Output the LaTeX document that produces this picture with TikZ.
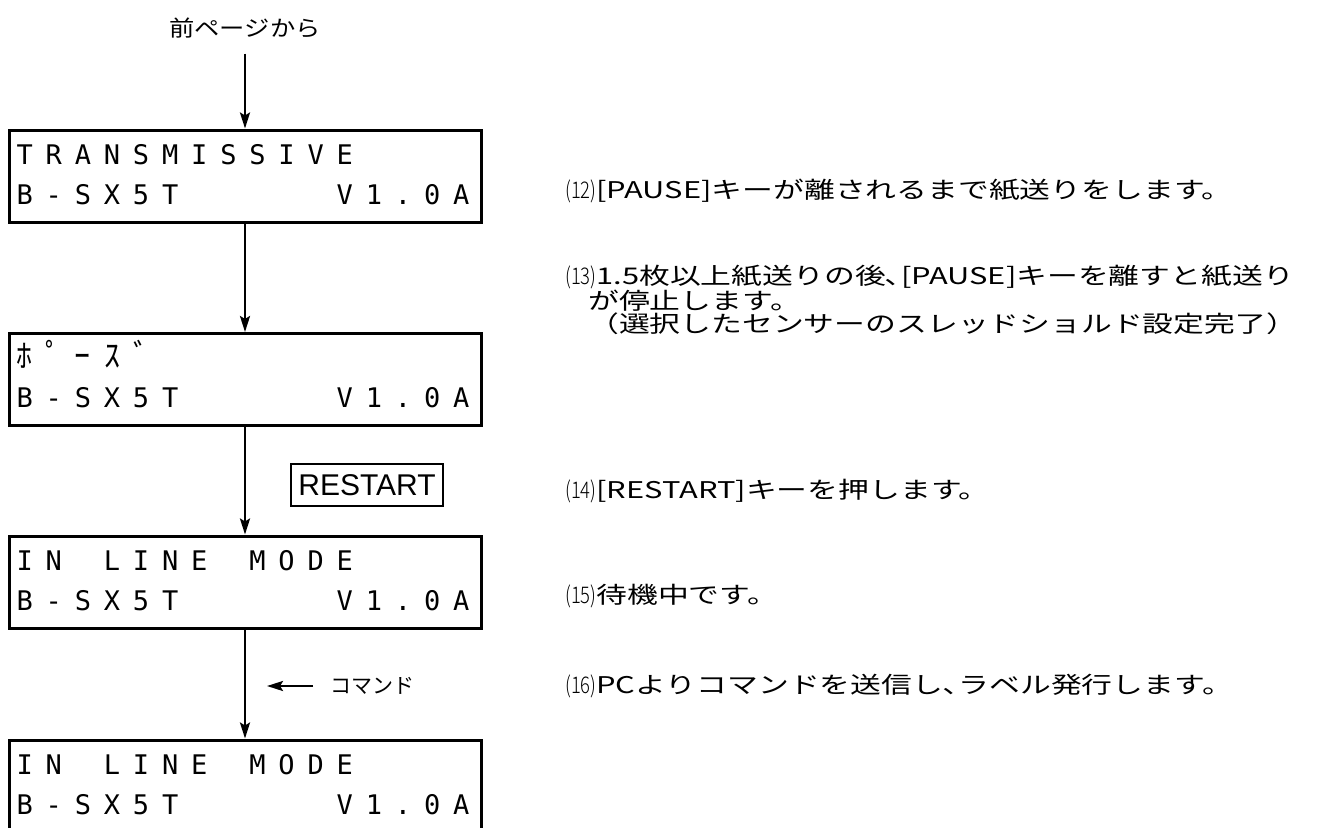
\documentclass[tikz,border=0pt]{standalone}
\usepackage{fontspec}
\usetikzlibrary{arrows.meta,positioning,calc}
\newfontfamily\jpfont{Noto Sans CJK JP}[FakeStretch=1.34]
\newfontfamily\labfont{Noto Sans CJK JP}[FakeStretch=1.15]
\newfontfamily\numfont{Noto Sans CJK JP Light}[FakeStretch=0.8]
\newfontfamily\kanafont{Noto Sans CJK JP}
\newfontfamily\lcdfont{DejaVu Sans Mono}
\newfontfamily\keyfont{Liberation Sans}
\newlength\lcdcell
\setlength\lcdcell{29.1pt}
\newcommand\lcdrow[1]{\foreach \ch in {#1}{\makebox[\lcdcell]{\ch}}}
\newcommand\stepno[1]{{\numfont(#1)}}

\begin{document}
\begin{tikzpicture}[x=1pt, y=-1pt,
  lcdbox/.style={draw, line width=3pt, minimum width=472pt, minimum height=92pt, inner sep=0pt},
  lcd/.style={font=\lcdfont\fontsize{27}{27}\selectfont, inner sep=0pt, anchor=base west},
  arr/.style={line width=2.5pt, -{Stealth[length=16pt,width=10pt,inset=3pt]}},
  note/.style={font=\jpfont\fontsize{23}{23.5}\selectfont, anchor=west, inner sep=0pt, align=left},
  keybox/.style={draw, line width=2pt, font=\keyfont\fontsize{30}{30}\selectfont,
    minimum width=152pt, minimum height=42pt, inner sep=0pt}
]
\clip (0,0) rectangle (1322,827);

\node[font=\labfont\fontsize{22}{22}\selectfont] (prev) at (245,28) {前ページから};

% display boxes
\node[lcdbox] (b1) at (245,176) {};
\node[lcdbox] (b2) at (245,379.5) {};
\node[lcdbox] (b3) at (245,582) {};
\node[lcdbox] (b4) at (245,786) {};

\node[lcd] (b1-top) at ($(b1.west)+(2.5,-12)$) {\lcdrow{T,R,A,N,S,M,I,S,S,I,V,E}};
\node[lcd, font=\kanafont\fontsize{32}{32}\selectfont] (b2-top) at ($(b2.west)+(2.5,-12)$) {\lcdrow{ﾎ,ﾟ,ｰ,ｽ,ﾞ}};
\node[lcd] (b3-top) at ($(b3.west)+(2.5,-12)$) {\lcdrow{I,N,~,L,I,N,E,~,M,O,D,E}};
\node[lcd] (b4-top) at ($(b4.west)+(2.5,-12)$) {\lcdrow{I,N,~,L,I,N,E,~,M,O,D,E}};
\foreach \b in {b1,b2,b3,b4}
  \node[lcd] (\b-ver) at ($(\b.west)+(2.5,28)$) {\lcdrow{B,-,S,X,5,T,~,~,~,~,~,V,1,.,0,A}};

\draw[arr, shorten <=12pt] (prev) -- (b1);
\foreach \a/\b in {b1/b2,b2/b3,b3/b4}
  \draw[arr] (\a) -- (\b);

\node[keybox] (restart) at (367,485) {RESTART};

\node[font=\kanafont\fontsize{21}{21}\selectfont, anchor=west, inner sep=0pt] (cmd) at (330,686) {コマンド};
\coordinate (cmdtip) at (267,686);
\draw[arr, shorten <=17pt] (cmd.west) -- (cmdtip);

% notes
\node[note] (n12) at (565,191) {\stepno{12}[PAUSE]キーが離されるまで紙送りをします。};
\node[note] (n13) at (565,300) {\stepno{13}1.5枚以上紙送りの後､[PAUSE]キーを離すと紙送り\\
  \hspace*{1em}が停止します。\\
  \hspace*{1em}（選択したセンサーのスレッドショルド設定完了）};
\node[note] (n14) at (565,491) {\stepno{14}[RESTART]キーを押します。};
\node[note] (n15) at (565,596) {\stepno{15}待機中です。};
\node[note] (n16) at (565,686) {\stepno{16}PCよりコマンドを送信し､ラベル発行します。};
\end{tikzpicture}
\end{document}
